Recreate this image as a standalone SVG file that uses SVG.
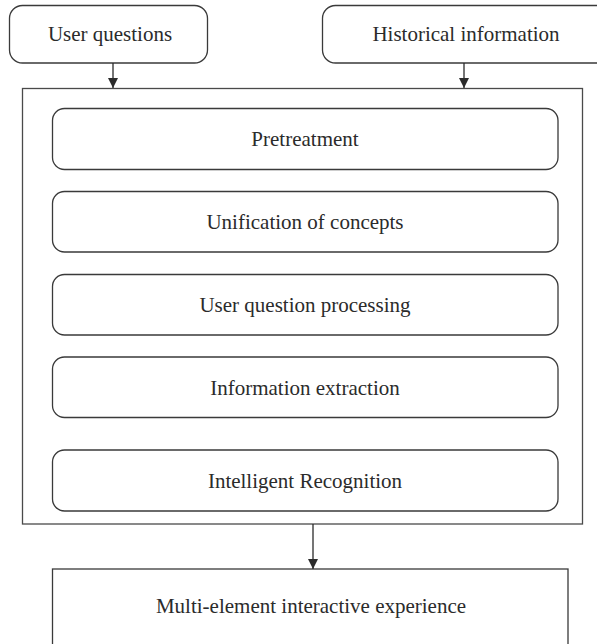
<svg xmlns="http://www.w3.org/2000/svg" width="597" height="644" viewBox="0 0 597 644">
  <style>
    .box { fill: #ffffff; stroke: #3a3a3a; stroke-width: 1.3; }
    .frame { fill: none; stroke: #4a4a4a; stroke-width: 1.3; }
    .label { font-family: "Liberation Serif", "Times New Roman", serif; font-size: 21px; fill: #2b2b2b; text-anchor: middle; }
    .link { stroke: #2b2b2b; stroke-width: 1.3; fill: none; marker-end: url(#arrow); }
  </style>
  <defs>
    <marker id="arrow" markerUnits="userSpaceOnUse" markerWidth="11" markerHeight="11" refX="10" refY="5" orient="auto">
      <path d="M0,0 L10,5 L0,10 Z" fill="#2b2b2b"/>
    </marker>
  </defs>

  <rect width="597" height="644" fill="#ffffff"/>

  <!-- inputs -->
  <g id="user-questions">
    <rect class="box" x="9.5" y="5.5" width="198" height="57.5" rx="13"/>
    <text class="label" x="110" y="41">User questions</text>
  </g>
  <g id="historical-information">
    <rect class="box" x="322.5" y="5.5" width="290" height="57.5" rx="13"/>
    <text class="label" x="466" y="41">Historical information</text>
  </g>

  <!-- processing container -->
  <g id="processing">
    <rect class="frame" x="22.5" y="88.5" width="560" height="435.5"/>
  </g>
  <g id="pretreatment">
    <rect class="box" x="52.5" y="108.5" width="505.5" height="61" rx="12"/>
    <text class="label" x="305" y="146">Pretreatment</text>
  </g>
  <g id="unification">
    <rect class="box" x="52.5" y="191.5" width="505.5" height="60.5" rx="12"/>
    <text class="label" x="305" y="229">Unification of concepts</text>
  </g>
  <g id="question-processing">
    <rect class="box" x="52.5" y="274.5" width="505.5" height="60.5" rx="12"/>
    <text class="label" x="305" y="312">User question processing</text>
  </g>
  <g id="information-extraction">
    <rect class="box" x="52.5" y="357" width="505.5" height="60.5" rx="12"/>
    <text class="label" x="305" y="394.5">Information extraction</text>
  </g>
  <g id="intelligent-recognition">
    <rect class="box" x="52.5" y="450" width="505.5" height="61" rx="12"/>
    <text class="label" x="305" y="487.5">Intelligent Recognition</text>
  </g>

  <!-- output -->
  <g id="experience">
    <rect class="box" x="52.5" y="569" width="515.5" height="100"/>
    <text class="label" x="311" y="613">Multi-element interactive experience</text>
  </g>

  <!-- connectors -->
  <g id="connectors">
    <line class="link" x1="113" y1="63" x2="113" y2="88"/>
    <line class="link" x1="464" y1="63" x2="464" y2="88"/>
    <line class="link" x1="313" y1="524" x2="313" y2="569"/>
  </g>
</svg>
